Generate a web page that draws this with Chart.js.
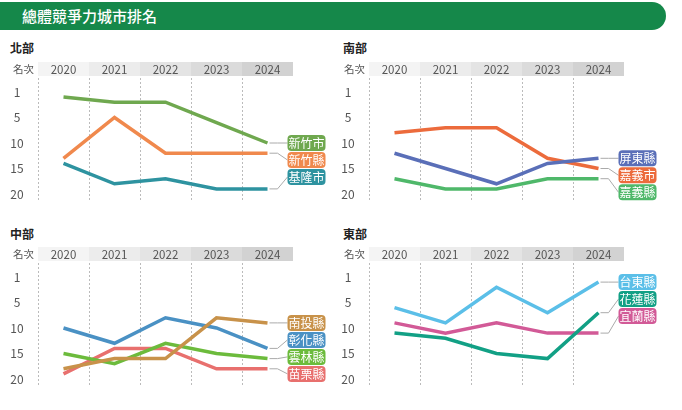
<!DOCTYPE html>
<html><head><meta charset="utf-8">
<script src="https://cdn.jsdelivr.net/npm/chart.js@4"></script>
<style>
body{margin:0;width:682px;height:410px;background:#fff;position:relative;overflow:hidden;font-family:"Noto Sans CJK TC",sans-serif}
#banner{position:absolute;left:0;top:2px;width:666px;height:28px;background:#15884a;border-radius:0 14px 14px 0;color:#fff;font-size:15px;line-height:28px;padding-left:22px;box-sizing:border-box;font-weight:500}
.p{position:absolute;width:341px;height:150px}
.t{position:absolute;font-size:12px;font-weight:bold;color:#222}
</style></head><body>
<div id="banner">總體競爭力城市排名</div>
<div class="t" style="left:10px;top:39px">北部</div>
<div class="t" style="left:343px;top:39px">南部</div>
<div class="t" style="left:10px;top:225px">中部</div>
<div class="t" style="left:343px;top:225px">東部</div>
<div class="p" style="left:0;top:55px"><canvas id="c1"></canvas></div>
<div class="p" style="left:341px;top:55px"><canvas id="c2"></canvas></div>
<div class="p" style="left:0;top:240px"><canvas id="c3"></canvas></div>
<div class="p" style="left:341px;top:240px"><canvas id="c4"></canvas></div>
<script>
const years = ['2020','2021','2022','2023','2024'];
const rankTicks = [0,5,10,15,20];
const rankTickLabels = ['1','5','10','15','20'];

const northNames = ['新竹市','新竹縣','基隆市'];
const hsinchuCity = [1,2,2,6,10];
const hsinchuCounty = [13,5,12,12,12];
const keelung = [14,18,17,19,19];

const southNames = ['屏東縣','嘉義市','嘉義縣'];
const pingtung = [12,15,18,14,13];
const chiayiCity = [8,7,7,13,15];
const chiayiCounty = [17,19,19,17,17];

const centralNames = ['南投縣','彰化縣','雲林縣','苗栗縣'];
const nantou = [18,16,16,8,9];
const changhua = [10,13,8,10,14];
const yunlin = [15,17,13,15,16];
const miaoli = [19,14,14,18,18];

const eastNames = ['台東縣','花蓮縣','宜蘭縣'];
const taitung = [6,9,2,7,1];
const hualien = [11,12,15,16,7];
const yilan = [9,11,9,11,11];

const FONT = '"Noto Sans CJK TC", sans-serif';
const bandColors = ['#f4f4f4','#ececec','#e4e4e4','#dbdbdb','#d2d2d2'];

const deco = {
  id:'deco',
  beforeDatasetsDraw(ch){
    const {ctx, chartArea:a, scales:{x,y}} = ch;
    const w = x.getPixelForValue(1)-x.getPixelForValue(0);
    ctx.save();
    for(let i=0;i<years.length;i++){
      const cx = x.getPixelForValue(i);
      ctx.fillStyle = bandColors[i];
      ctx.fillRect(cx-w/2, a.top-30, w, 14);
      ctx.fillStyle = '#555'; ctx.font = '11.5px '+FONT;
      ctx.textAlign='center'; ctx.textBaseline='middle';
      ctx.fillText(years[i], cx, a.top-22.5);
    }
    ctx.fillStyle='#555'; ctx.font='10.5px '+FONT; ctx.textAlign='right';
    ctx.fillText('名次', a.left-4, a.top-22.5);
    ctx.strokeStyle='#bbb'; ctx.setLineDash([2,2]); ctx.lineWidth=1;
    for(let i=0;i<years.length;i++){
      const ex = Math.round(x.getPixelForValue(i)-w/2)+0.5;
      ctx.beginPath(); ctx.moveTo(ex,a.top-14); ctx.lineTo(ex,a.bottom+6); ctx.stroke();
    }
    ctx.setLineDash([]);
    ctx.fillStyle='#555'; ctx.font='12px '+FONT; ctx.textAlign='center';
    rankTicks.forEach((v,i)=>ctx.fillText(rankTickLabels[i], a.left-21, y.getPixelForValue(v)));
    ctx.restore();
  },
  afterDatasetsDraw(ch){
    const {ctx, scales:{x,y}} = ch;
    const lx = x.getPixelForValue(4);
    const ds = ch.data.datasets.map(d=>({d, py:y.getPixelForValue(d.data[4])})).sort((a,b)=>a.py-b.py);
    let prev=null;
    ctx.save();
    ds.forEach((o,i)=>{
      const ly = i===0 ? o.py : prev+17; prev=ly;
      const bx = lx+20, bw=38, bh=16;
      ctx.strokeStyle='#aaa'; ctx.lineWidth=1;
      ctx.beginPath(); ctx.moveTo(lx+2,o.py); ctx.lineTo(lx+10,o.py); ctx.lineTo(bx,ly); ctx.stroke();
      ctx.fillStyle=o.d.borderColor;
      ctx.beginPath(); ctx.roundRect(bx, ly-bh/2, bw, bh, 4); ctx.fill();
      ctx.fillStyle='#fff'; ctx.font='12px '+FONT; ctx.textAlign='center'; ctx.textBaseline='middle';
      ctx.fillText(o.d.label, bx+bw/2, ly+0.5);
    });
    ctx.restore();
  }
};

function make(id, names, series, colors, padLeft){
  new Chart(document.getElementById(id), {
    type:'line',
    data:{labels:years, datasets:series.map((s,i)=>({label:names[i], data:s, borderColor:colors[i], borderWidth:3.5, pointRadius:0, tension:0, fill:false}))},
    options:{
      responsive:true, maintainAspectRatio:false, animation:false,
      layout:{padding:{left:padLeft, right:341-padLeft-255, top:37, bottom:11}},
      plugins:{legend:{display:false}, tooltip:{enabled:false}},
      scales:{
        x:{display:false, offset:true},
        y:{display:false, reverse:true, min:0, max:20}
      }
    },
    plugins:[deco]
  });
}
make('c1', northNames, [hsinchuCity,hsinchuCounty,keelung], ['#6fa84f','#f0894d','#2e93a0'], 38);
make('c2', southNames, [pingtung,chiayiCity,chiayiCounty], ['#5a6fb8','#ec6b3c','#4fb86a'], 28);
make('c3', centralNames, [nantou,changhua,yunlin,miaoli], ['#c8924a','#4a91c4','#6cbb3c','#e8706e'], 38);
make('c4', eastNames, [taitung,hualien,yilan], ['#5bbfe8','#12a085','#d25a97'], 28);
</script>
</body></html>
